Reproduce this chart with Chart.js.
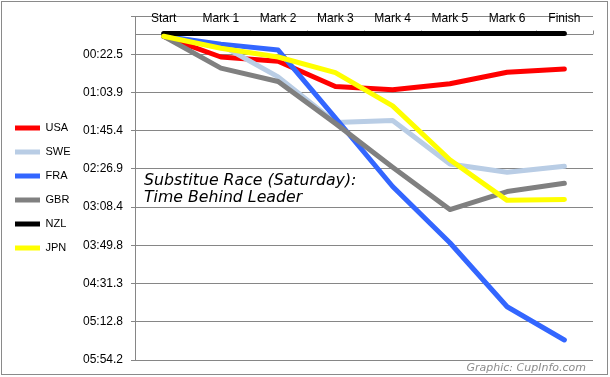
<!DOCTYPE html>
<html>
<head>
<meta charset="utf-8">
<script src="https://cdn.jsdelivr.net/npm/chart.js@4.4.1/dist/chart.umd.min.js"></script>
<style>
  body { margin: 0; background: #fff; }
  #wrap { width: 610px; height: 377px; }
</style>
</head>
<body>
<div id="wrap"><canvas id="chart" width="610" height="377"></canvas></div>
<script>
// seconds behind leader at each mark
var marks = ["Start", "Mark 1", "Mark 2", "Mark 3", "Mark 4", "Mark 5", "Mark 6", "Finish"];
var usa = [3, 25.5, 30, 57.5, 61, 54.5, 42, 38.5];
var swe = [3, 12.5, 47, 96.5, 94.5, 141.5, 150.5, 144];
var fra = [3, 11.5, 18, 91.5, 166, 227, 296.5, 332.5];
var gbr = [3, 37.5, 52, 97.5, 145, 191, 171.5, 162.5];
var nzl = [0, 0, 0, 0, 0, 0, 0, 0];
var jpn = [3, 16, 25.5, 42.5, 78.5, 137, 181, 180];

var yTickValues = [-19.008, 22.464, 63.936, 105.408, 146.88, 188.352, 229.824, 271.296, 312.768, 354.24];
var yTickLabels = ["", "00:22.5", "01:03.9", "01:45.4", "02:26.9", "03:08.4", "03:49.8", "04:31.3", "05:12.8", "05:54.2"];

var titleLines = ["Substitue Race (Saturday):", "Time Behind Leader"];
var credit = "Graphic: CupInfo.com";

var gridGray = "#868686";

function series(label, data, color, order) {
  return {
    label: label,
    data: data,
    borderColor: color,
    backgroundColor: color,
    borderWidth: 5,
    borderCapStyle: "round",
    borderJoinStyle: "round",
    pointRadius: 0,
    tension: 0,
    order: order
  };
}

// category axis line sits at zero, ticks point up
var zeroAxis = {
  id: "zeroAxis",
  beforeDatasetsDraw: function (chart) {
    var ctx = chart.ctx, a = chart.chartArea;
    var xs = chart.scales.x, ys = chart.scales.y;
    var y0 = Math.round(ys.getPixelForValue(0)) + 0.5;
    var half = (xs.getPixelForValue(1) - xs.getPixelForValue(0)) / 2;
    ctx.save();
    ctx.strokeStyle = gridGray;
    ctx.lineWidth = 1;
    ctx.beginPath();
    ctx.moveTo(a.left, y0);
    ctx.lineTo(a.right, y0);
    for (var i = 0; i < marks.length; i++) {
      var tx = Math.round(xs.getPixelForValue(i) + half) + 0.5;
      ctx.moveTo(tx, y0);
      ctx.lineTo(tx, y0 - 4);
    }
    ctx.stroke();
    ctx.restore();
  }
};

var notes = {
  id: "notes",
  afterDraw: function (chart) {
    var ctx = chart.ctx, a = chart.chartArea;
    ctx.save();
    ctx.fillStyle = "#000";
    ctx.font = 'italic 15.75px "DejaVu Sans"';
    ctx.textAlign = "left";
    ctx.textBaseline = "alphabetic";
    ctx.fillText(titleLines[0], a.left + 9, 185);
    ctx.fillText(titleLines[1], a.left + 9, 202);
    ctx.fillStyle = "#8c8c8c";
    ctx.font = 'italic 11px "DejaVu Sans"';
    ctx.textAlign = "right";
    ctx.fillText(credit, 586, 371);
    ctx.strokeStyle = "#8a8a8a";
    ctx.lineWidth = 1;
    ctx.strokeRect(1.5, 1.5, 606, 373);
    ctx.restore();
  }
};

Chart.defaults.font.family = '"Liberation Sans", Arial, sans-serif';
Chart.defaults.font.size = 11;
Chart.defaults.color = "#000";

new Chart("chart", {
  type: "line",
  data: {
    labels: marks,
    datasets: [
      series("USA", usa, "#ff0000", 6),
      series("SWE", swe, "#b9cde5", 5),
      series("FRA", fra, "#3366ff", 4),
      series("GBR", gbr, "#808080", 3),
      series("NZL", nzl, "#000000", 2),
      series("JPN", jpn, "#ffff00", 1)
    ]
  },
  options: {
    responsive: false,
    animation: false,
    devicePixelRatio: 1,
    layout: { padding: { left: 2, top: 16, right: 17, bottom: 17 } },
    plugins: {
      tooltip: { enabled: false },
      legend: {
        position: "left",
        labels: {
          usePointStyle: true,
          pointStyle: "line",
          pointStyleWidth: 25,
          boxHeight: 11,
          padding: 13,
          color: "#000",
          font: { size: 11 },
          sort: function (a, b) { return a.datasetIndex - b.datasetIndex; }
        }
      }
    },
    scales: {
      x: {
        type: "category",
        position: "top",
        offset: true,
        grid: { display: false },
        border: { display: false },
        ticks: { mirror: true, padding: -5, maxRotation: 0, autoSkip: false, color: "#000", font: { size: 12 } },
        afterFit: function (s) { s.height = 0; }
      },
      y: {
        type: "linear",
        reverse: true,
        min: yTickValues[0],
        max: yTickValues[yTickValues.length - 1],
        afterBuildTicks: function (s) {
          s.ticks = yTickValues.map(function (v) { return { value: v }; });
        },
        grid: { color: gridGray, tickLength: 4 },
        border: { color: gridGray },
        ticks: {
          padding: 8,
          color: "#000",
          font: { size: 12 },
          callback: function (v, i) { return yTickLabels[i]; }
        },
        afterFit: function (s) { s.width = 135 - 2 - s.chart.legend.width; }
      }
    }
  },
  plugins: [zeroAxis, notes]
});
</script>
</body>
</html>
